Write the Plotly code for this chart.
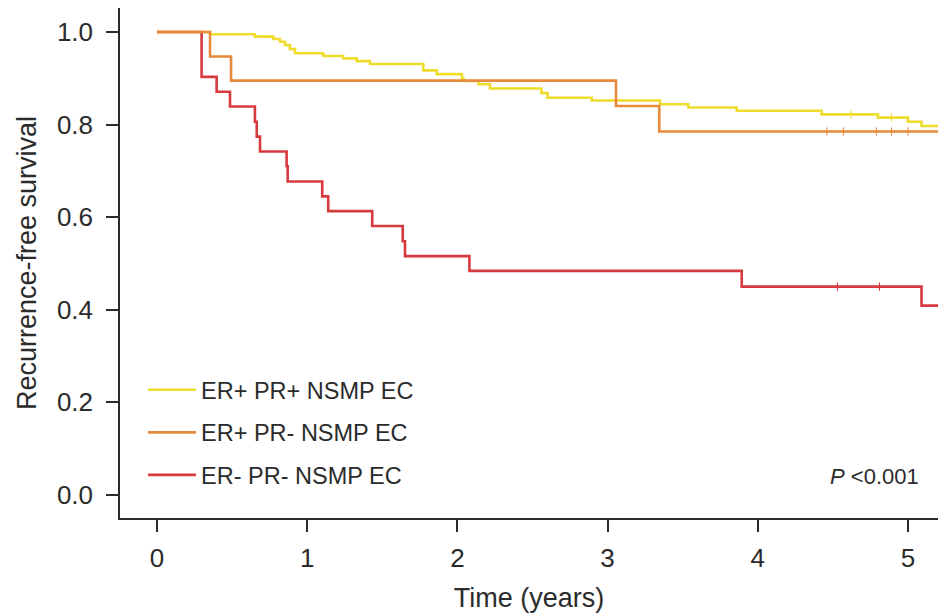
import bisect
import plotly.graph_objects as go

# Kaplan-Meier step data: event times (years) and survival after each step
er_pos_pr_pos_t = [0, 0.353, 0.652, 0.775, 0.819, 0.852, 0.885, 0.919, 1.107, 1.24, 1.33,
                   1.418, 1.773, 1.862, 2.03, 2.04, 2.14, 2.217, 2.56, 2.60, 2.894, 3.349,
                   3.538, 3.86, 4.425, 4.80, 5.0, 5.09]
er_pos_pr_pos_s = [1.0, 0.995, 0.990, 0.985, 0.979, 0.972, 0.963, 0.954, 0.948, 0.943, 0.937,
                   0.931, 0.917, 0.909, 0.900, 0.894, 0.887, 0.878, 0.868, 0.858, 0.852, 0.844,
                   0.837, 0.830, 0.822, 0.815, 0.806, 0.797]
er_pos_pr_pos_cens = [4.62, 4.89]

er_pos_pr_neg_t = [0, 0.353, 0.493, 3.056, 3.344]
er_pos_pr_neg_s = [1.0, 0.947, 0.895, 0.840, 0.785]
er_pos_pr_neg_cens = [4.46, 4.57, 4.79, 4.89, 5.0]

er_neg_pr_neg_t = [0, 0.297, 0.397, 0.486, 0.652, 0.664, 0.686, 0.863, 0.870, 1.10, 1.14,
                   1.433, 1.636, 1.651, 2.08, 3.893, 5.09]
er_neg_pr_neg_s = [1.0, 0.903, 0.871, 0.839, 0.806, 0.774, 0.742, 0.710, 0.677, 0.645, 0.613,
                   0.581, 0.548, 0.516, 0.484, 0.450, 0.409]
er_neg_pr_neg_cens = [4.53, 4.81]

group_names = ["ER+ PR+ NSMP EC", "ER+ PR- NSMP EC", "ER- PR- NSMP EC"]
group_colors = ["#F0DC2C", "#E88A3C", "#D63A3E"]

x_ticks = [0, 1, 2, 3, 4, 5]
y_ticks = [0.0, 0.2, 0.4, 0.6, 0.8, 1.0]
y_tick_labels = ["0.0", "0.2", "0.4", "0.6", "0.8", "1.0"]
p_label = "<i>P</i> &lt;0.001"

T_END = 5.3
FONT = "Liberation Sans, Arial, Helvetica, sans-serif"
INK = "#2b2b2b"


def surv_at(times, surv, t):
    i = bisect.bisect_right(times, t) - 1
    return surv[max(i, 0)]


groups = [
    (er_pos_pr_pos_t, er_pos_pr_pos_s, er_pos_pr_pos_cens),
    (er_pos_pr_neg_t, er_pos_pr_neg_s, er_pos_pr_neg_cens),
    (er_neg_pr_neg_t, er_neg_pr_neg_s, er_neg_pr_neg_cens),
]

fig = go.Figure()

# draw order: yellow, red, orange (orange sits on top); legend order stays 1-2-3
for idx in [0, 2, 1]:
    times, surv, cens = groups[idx]
    fig.add_trace(go.Scatter(
        x=times + [T_END], y=surv + [surv[-1]],
        mode="lines", line=dict(color=group_colors[idx], width=2.6, shape="hv"),
        name=group_names[idx], legendgroup=f"g{idx}", legendrank=idx + 1,
        hoverinfo="skip",
    ))
    fig.add_trace(go.Scatter(
        x=cens, y=[surv_at(times, surv, c) for c in cens],
        mode="markers",
        marker=dict(symbol="line-ns", size=6, line=dict(color=group_colors[idx], width=1)),
        showlegend=False, legendgroup=f"g{idx}", hoverinfo="skip",
    ))

# P-value note, positioned in plot-domain fractions
fig.add_annotation(
    x=(921 - 120) / 818, y=(518 - 476) / 510, xref="x domain", yref="y domain",
    text=p_label, showarrow=False,
    font=dict(family=FONT, size=22, color=INK), xanchor="right", yanchor="middle",
)

fig.update_layout(
    width=938, height=615,
    margin=dict(l=120, r=0, t=8, b=97),
    paper_bgcolor="white", plot_bgcolor="white",
    font=dict(family=FONT, color=INK),
    showlegend=True,
    legend=dict(
        x=(143 - 120) / 818, y=(518 - 368) / 510, xanchor="left", yanchor="top",
        bgcolor="rgba(0,0,0,0)", font=dict(family=FONT, size=23.5, color=INK),
        tracegroupgap=9, itemwidth=48,
    ),
    xaxis=dict(
        range=[-0.2463, 5.1997], tickvals=x_ticks, ticktext=[str(v) for v in x_ticks],
        showgrid=False, zeroline=False, showline=True, linecolor=INK, linewidth=1.5,
        ticks="outside", ticklen=12, tickwidth=1.5, tickcolor=INK,
        tickfont=dict(family=FONT, size=26, color=INK), ticklabelstandoff=4,
        title=dict(text="Time (years)", font=dict(family=FONT, size=27, color=INK), standoff=16),
    ),
    yaxis=dict(
        range=[-0.0497, 1.0518], tickvals=y_ticks, ticktext=y_tick_labels,
        showgrid=False, zeroline=False, showline=True, linecolor=INK, linewidth=1.5,
        ticks="outside", ticklen=12, tickwidth=1.5, tickcolor=INK,
        tickfont=dict(family=FONT, size=26, color=INK), ticklabelstandoff=8,
        title=dict(text="Recurrence-free survival", font=dict(family=FONT, size=27, color=INK),
                   standoff=12),
    ),
)

fig.write_html("out.html")
